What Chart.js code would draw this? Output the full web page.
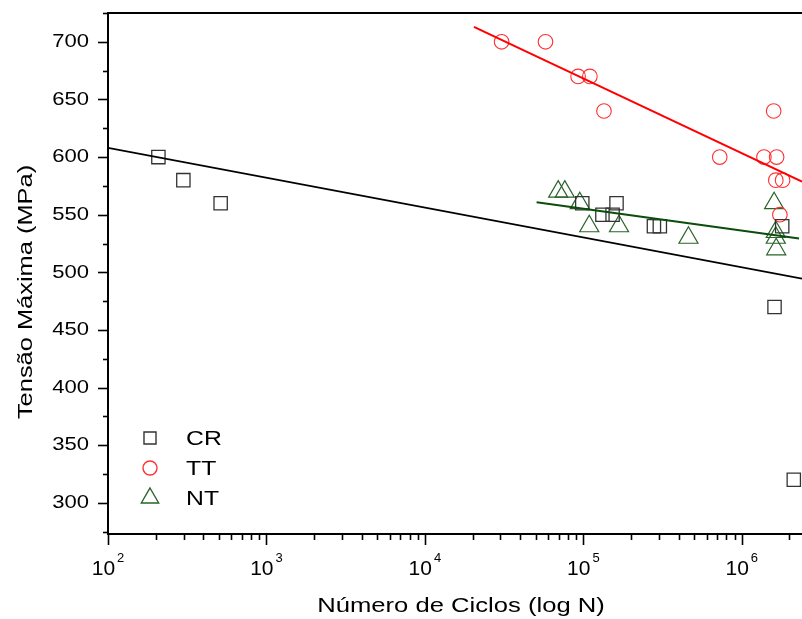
<!DOCTYPE html>
<html>
<head>
<meta charset="utf-8">
<script src="https://cdn.jsdelivr.net/npm/chart.js@4.4.1/dist/chart.umd.min.js"></script>
<style>
  html, body { margin: 0; padding: 0; background: #fff; overflow: hidden; }
  canvas { display: block; }
</style>
</head>
<body>
<canvas id="grafico" width="802" height="619"></canvas>
<script>
// dados (N = ciclos, S = tensão máxima em MPa)
const crN = [208, 299, 514, 98500, 132000, 153000, 162000, 279000, 304000, 1800000, 1610000, 2130000];
const crS = [600, 580, 560, 560, 550, 550, 560, 540, 540, 540, 470, 320];

const ttN = [30500, 57700, 92700, 110000, 135000, 726000, 1380000, 1660000, 1590000, 1640000, 1810000, 1740000];
const ttS = [700, 700, 670, 670, 640, 600, 600, 600, 640, 580, 580, 550];

const ntN = [69400, 76400, 95000, 109000, 168000, 461000, 1600000, 1640000, 1640000, 1650000];
const ntS = [570, 570, 560, 540, 540, 530, 560, 535, 530, 520];

// retas de ajuste (extremos)
const crFitN = [100, 2400000];
const crFitS = [608, 494.5];
const ttFitN = [20400, 2400000];
const ttFitS = [713, 578.7];
const ntFitN = [50700, 2300000];
const ntFitS = [560.8, 529.3];

// eixos
const yTicks = [300, 350, 400, 450, 500, 550, 600, 650, 700];
const xTicks = [1e2, 1e3, 1e4, 1e5, 1e6];
const xExpoentes = ['2', '3', '4', '5', '6'];

const pts = (xs, ys) => xs.map((x, i) => ({ x: x, y: ys[i] }));
const FONTE = '"Liberation Sans", Arial, sans-serif';

// texto um pouco esticado na horizontal, como no original
function texto(ctx, s, x, y, tam, esticar, alinhar, rot) {
  ctx.save();
  ctx.translate(x, y);
  if (rot) ctx.rotate(rot);
  ctx.scale(esticar, 1);
  ctx.font = tam + 'px ' + FONTE;
  ctx.textAlign = alinhar;
  ctx.textBaseline = 'middle';
  ctx.fillStyle = '#000';
  ctx.fillText(s, 0, 0);
  ctx.restore();
}

// ticks para fora, rótulos, títulos e linha de cima
const eixos = {
  id: 'eixos',
  afterDraw(chart) {
    const ctx = chart.ctx;
    const a = chart.chartArea;
    const sx = chart.scales.x, sy = chart.scales.y;
    ctx.save();
    ctx.strokeStyle = '#000';
    ctx.lineWidth = 2;
    ctx.beginPath();
    ctx.moveTo(a.left - 1, a.top);
    ctx.lineTo(a.right, a.top);
    ctx.stroke();
    ctx.lineWidth = 1.6;
    for (let v = 275; v <= 725; v += 25) {
      const y = Math.round(sy.getPixelForValue(v)) + 0.5;
      const len = v % 50 === 0 ? 10 : 5;
      ctx.beginPath();
      ctx.moveTo(a.left, y);
      ctx.lineTo(a.left - len, y);
      ctx.stroke();
    }
    for (let d = 2; d <= 6; d++) {
      for (let k = 1; k <= 9; k++) {
        const n = k * Math.pow(10, d);
        if (n > sx.max) continue;
        const x = Math.round(sx.getPixelForValue(n)) + 0.5;
        const len = k === 1 ? 11 : 6;
        ctx.beginPath();
        ctx.moveTo(x, a.bottom);
        ctx.lineTo(x, a.bottom + len);
        ctx.stroke();
      }
    }
    ctx.restore();

    // rótulos do eixo y
    sy.ticks.forEach(t => {
      texto(ctx, String(t.value), a.left - 19, sy.getPixelForValue(t.value), 19, 1.16, 'right', 0);
    });

    // rótulos do eixo x: 10 com expoente
    ctx.save();
    ctx.fillStyle = '#000';
    ctx.textBaseline = 'alphabetic';
    ctx.textAlign = 'left';
    sx.ticks.forEach((t, i) => {
      const px = sx.getPixelForValue(t.value);
      ctx.font = '21px ' + FONTE;
      const wb = ctx.measureText('10').width;
      ctx.font = '13px ' + FONTE;
      const we = ctx.measureText(xExpoentes[i]).width;
      const x0 = px - (wb + 2 + we) / 2;
      ctx.font = '21px ' + FONTE;
      ctx.fillText('10', x0, a.bottom + 41);
      ctx.font = '13px ' + FONTE;
      ctx.fillText(xExpoentes[i], x0 + wb + 2, a.bottom + 28);
    });
    ctx.restore();

    // títulos
    texto(ctx, 'Número de Ciclos (log N)', 461, 606, 21, 1.22, 'center', 0);
    texto(ctx, 'Tensão Máxima (MPa)', 26, 292, 21, 1.21, 'center', -Math.PI / 2);
  }
};

// legenda dentro da área do gráfico
const legendaInterna = {
  id: 'legendaInterna',
  afterDraw(chart) {
    const ctx = chart.ctx;
    const a = chart.chartArea;
    const itens = chart.data.datasets.filter(d => d.legenda);
    itens.forEach((d, i) => {
      const y = a.bottom - 96 + i * 30;
      ctx.save();
      ctx.strokeStyle = d.borderColor;
      ctx.fillStyle = 'rgba(0,0,0,0)';
      ctx.lineWidth = 1.4;
      Chart.helpers.drawPoint(ctx, { pointStyle: d.pointStyle, radius: d.legRaio, rotation: 0, borderWidth: 1.4 }, a.left + 42, y);
      ctx.restore();
      texto(ctx, d.label, a.left + 78, y + 1, 21, 1.18, 'left', 0);
    });
  }
};

const grafico = new Chart(document.getElementById('grafico'), {
  type: 'scatter',
  data: {
    datasets: [
      {
        label: 'ajuste CR', data: pts(crFitN, crFitS), showLine: true,
        borderColor: '#000', borderWidth: 1.8, pointRadius: 0
      },
      {
        label: 'ajuste TT', data: pts(ttFitN, ttFitS), showLine: true,
        borderColor: '#ff0000', borderWidth: 2, pointRadius: 0
      },
      {
        label: 'ajuste NT', data: pts(ntFitN, ntFitS), showLine: true,
        borderColor: '#0b4d0b', borderWidth: 2, pointRadius: 0
      },
      {
        label: 'CR', legenda: true, legRaio: 8.5, data: pts(crN, crS),
        pointStyle: 'rect', pointRadius: 9.4, borderColor: '#333333', borderWidth: 1.3,
        backgroundColor: 'rgba(0,0,0,0)'
      },
      {
        label: 'TT', legenda: true, legRaio: 7, data: pts(ttN, ttS),
        pointStyle: 'circle', pointRadius: 7.3, borderColor: '#ff3030', borderWidth: 1.1,
        backgroundColor: 'rgba(0,0,0,0)'
      },
      {
        label: 'NT', legenda: true, legRaio: 10, data: pts(ntN, ntS),
        pointStyle: 'triangle', pointRadius: 11, borderColor: '#2b632b', borderWidth: 1.2,
        backgroundColor: 'rgba(0,0,0,0)'
      }
    ]
  },
  options: {
    responsive: false,
    animation: false,
    devicePixelRatio: 1,
    layout: { autoPadding: false, padding: { top: 13, right: 0, left: 0, bottom: 0 } },
    plugins: {
      legend: { display: false },
      tooltip: { enabled: false }
    },
    scales: {
      x: {
        type: 'logarithmic',
        min: 100,
        max: 2400000,
        afterBuildTicks: s => { s.ticks = xTicks.map(v => ({ value: v, major: true })); },
        afterFit: s => { s.height = 85; },
        grid: { display: false, drawTicks: false },
        border: { display: true, color: '#000', width: 2 },
        ticks: { display: false },
        title: { display: false }
      },
      y: {
        min: 273,
        max: 725,
        afterBuildTicks: s => { s.ticks = yTicks.map(v => ({ value: v })); },
        afterFit: s => { s.width = 108; },
        grid: { display: false, drawTicks: false },
        border: { display: true, color: '#000', width: 2 },
        ticks: { display: false },
        title: { display: false }
      }
    }
  },
  plugins: [eixos, legendaInterna]
});
</script>
</body>
</html>
